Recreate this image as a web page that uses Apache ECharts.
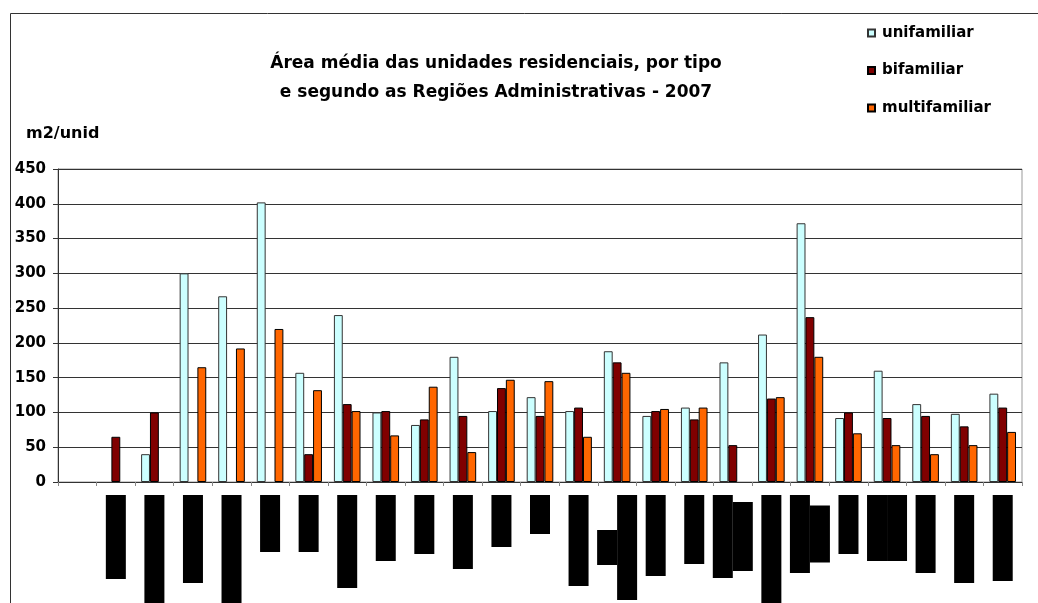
<!DOCTYPE html>
<html>
<head>
<meta charset="utf-8">
<script src="https://cdn.jsdelivr.net/npm/echarts@6/dist/echarts.min.js"></script>
<style>
html,body{margin:0;padding:0;background:#fff;}
#chart{width:1038px;height:603px;}
</style>
</head>
<body>
<div id="chart"></div>
<script>
// Categories (the region labels are blacked out in the reference)
const categories = ['', 'RA 1', 'RA 2', 'RA 3', 'RA 4', 'RA 5', 'RA 6', 'RA 7', 'RA 8', 'RA 9', 'RA 10', 'RA 11', 'RA 12',
  'RA 13', 'RA 14', 'RA 15', 'RA 16', 'RA 17', 'RA 18', 'RA 19', 'RA 20', 'RA 21', 'RA 22', 'RA 23', 'RA 24'];
// Lengths of the black redaction boxes covering each label, one entry per label line
const redactedLabelLines = [[], [84], [115], [88], [115], [57], [57], [93], [66], [59], [74], [52], [39],
  [91], [35, 105], [81], [69], [83, 69], [115], [78, 57], [59], [66, 66], [78], [88], [86]];

const seriesNames = ['unifamiliar', 'bifamiliar', 'multifamiliar'];
const unifamiliar = [null, null, 40, 300, 267, 402, 157, 240, 100, 82, 180, 102, 122, 102, 188, 95, 107, 172, 212, 372, 92, 160, 112, 98, 127];
const bifamiliar = [null, 65, 100, null, null, null, 40, 112, 102, 90, 95, 135, 95, 107, 172, 102, 90, 53, 120, 237, 100, 92, 95, 80, 107];
const multifamiliar = [null, null, null, 165, 192, 220, 132, 102, 67, 137, 43, 147, 145, 65, 157, 105, 107, null, 122, 180, 70, 53, 40, 53, 72];

const yTicks = [0, 50, 100, 150, 200, 250, 300, 350, 400, 450];

const FONT = 'DejaVu Sans';
const colors = ['#CCFFFF', '#800000', '#FF6600'];

const rich = {};
redactedLabelLines.forEach((lines, i) => {
  lines.forEach((L, j) => {
    rich['b' + i + '_' + j] = {
      width: L, height: 20, lineHeight: 20, backgroundColor: '#000', color: '#000',
      align: 'center', fontSize: 10, fontFamily: FONT
    };
  });
});

const chart = echarts.init(document.getElementById('chart'), null, {renderer: 'canvas'});
const dataSets = [unifamiliar, bifamiliar, multifamiliar];

chart.setOption({
  backgroundColor: '#fff',
  animation: false,
  textStyle: {fontFamily: FONT},
  title: {
    text: 'Área média das unidades residenciais, por tipo\ne segundo as Regiões Administrativas - 2007',
    left: 491, top: 44, textAlign: 'center',
    textStyle: {fontFamily: FONT, fontSize: 17, fontWeight: 'bold', color: '#000', lineHeight: 29}
  },
  legend: {
    orient: 'vertical', left: 862, top: 20,
    itemWidth: 7, itemHeight: 7, itemGap: 21.5,
    icon: 'rect',
    data: seriesNames,
    textStyle: {fontFamily: FONT, fontSize: 15, fontWeight: 'bold', color: '#000', lineHeight: 16, padding: [0, 0, 0, 2]}
  },
  graphic: [
    {type: 'rect', left: 8, top: 11, shape: {width: 1200, height: 700}, style: {fill: 'none', stroke: '#333', lineWidth: 1}, silent: true},
    {type: 'text', left: 26, top: 126, style: {text: 'm2/unid', font: 'bold 16px "DejaVu Sans"', fill: '#000'}}
  ],
  grid: {left: 58, right: 16, top: 169, bottom: 121, containLabel: false, outerBoundsMode: 'none',
    show: true, borderColor: '#999', borderWidth: 1, backgroundColor: 'transparent'},
  xAxis: {
    type: 'category', data: categories,
    axisLine: {lineStyle: {color: '#333', width: 1}},
    axisTick: {show: true, length: 4, interval: 0, lineStyle: {color: '#888'}},
    axisLabel: {
      interval: 0, rotate: 90, margin: 13,
      formatter: function (value, index) {
        const lines = redactedLabelLines[index] || [];
        if (!lines.length) return '';
        return lines.map((L, j) => '{b' + index + '_' + j + '|' + (j === 0 ? value : ' ') + '}').join('\n');
      },
      rich: rich
    },
    splitLine: {show: false}
  },
  yAxis: {
    type: 'value', min: yTicks[0], max: yTicks[yTicks.length - 1], interval: 50,
    axisLine: {show: true, lineStyle: {color: '#333', width: 1}},
    axisTick: {show: true, length: 5, lineStyle: {color: '#333'}},
    axisLabel: {margin: 12, fontFamily: FONT, fontSize: 15, fontWeight: 'bold', color: '#000'},
    splitLine: {show: true, lineStyle: {color: '#333', width: 1}}
  },
  series: seriesNames.map((name, k) => ({
    name: name, type: 'bar', data: dataSets[k],
    barGap: '0%', barCategoryGap: '31%',
    itemStyle: {color: colors[k], borderColor: k === 0 ? '#333' : '#000', borderWidth: 1}
  }))
});
</script>
</body>
</html>
